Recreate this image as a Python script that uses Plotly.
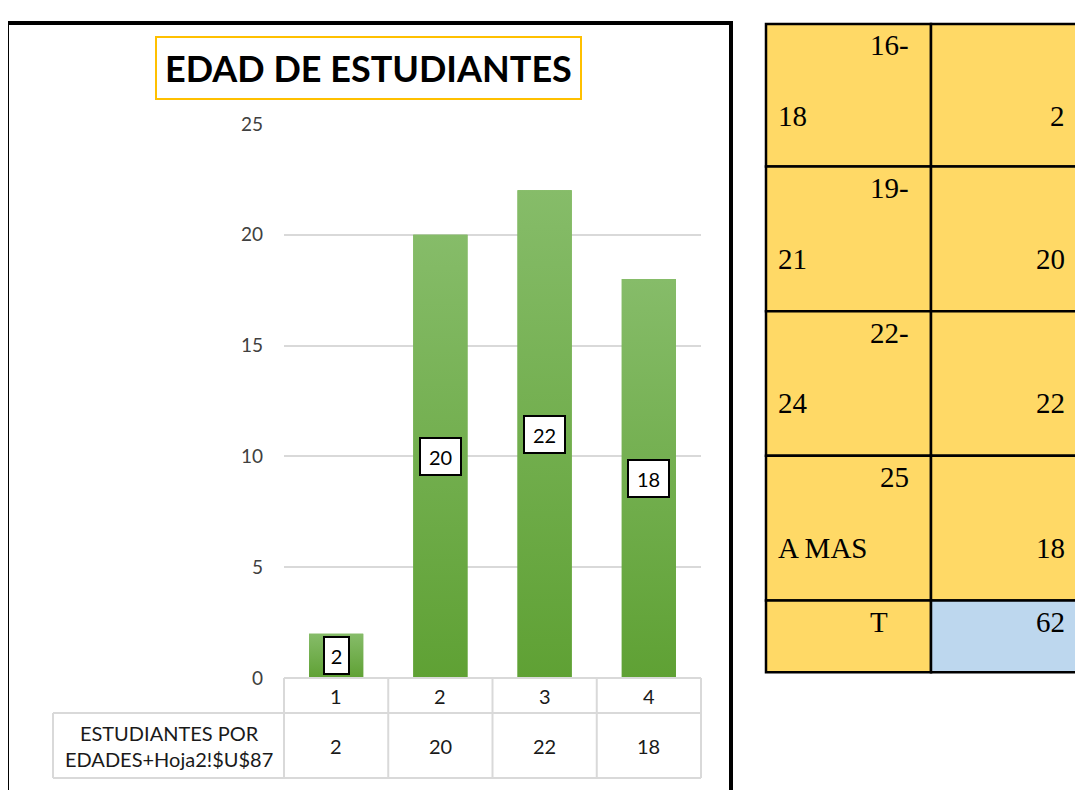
import plotly.graph_objects as go

# ---- data ----
categories = ["1", "2", "3", "4"]
values = [2, 20, 22, 18]
series_name = "ESTUDIANTES POR<br>EDADES+Hoja2!$U$87"
title_text = "EDAD DE ESTUDIANTES"
y_ticks = [0, 5, 10, 15, 20, 25]
range_top = ["16-", "19-", "22-", "25"]
range_bottom = ["18", "21", "24", "A MAS"]
range_counts = [2, 20, 22, 18]
total_label = "T"
total_value = 62

# figure sized so the page (8px body margin) fits the 1083x798 window
W, H = 1083, 782
OFF = 8
def X(px):
    return (px - OFF) / W
def Y(py):
    return 1 - (py - OFF) / H

PL, PR, PT, PB = 284, 701, 115, 686
BAR_W = 0.52

fig = go.Figure()
fig.add_trace(go.Bar(
    x=categories, y=values, width=BAR_W,
    marker=dict(color="#6DAD45", line=dict(width=0)),
    hoverinfo="skip", showlegend=False,
))
# gradient overlay on each bar (same geometry, derived from the data values)
for i, v in enumerate(values):
    hw = BAR_W / 2
    fig.add_trace(go.Scatter(
        x=[i - hw, i + hw, i + hw, i - hw, i - hw], y=[0, 0, v, v, 0],
        xaxis="x2", yaxis="y", mode="lines", line=dict(width=0), fill="toself",
        fillgradient=dict(type="vertical", colorscale=[[0, "#5FA134"], [1, "#86BC69"]]),
        hoverinfo="skip", showlegend=False,
    ))

shapes = []
annotations = []

for i, v in enumerate(values):
    s = str(v)
    annotations.append(dict(
        x=i, y=v / 2, xref="x", yref="y", text=s, showarrow=False,
        font=dict(family="Lato", size=20, color="black"),
        bgcolor="white", bordercolor="black", borderwidth=2, borderpad=0,
        width=23 if len(s) == 1 else 39, height=35,
        xanchor="center", yanchor="middle",
    ))

grid_c = "#D9D9D9"
col_w = (PR - PL) / len(categories)
row1_top, row1_bot, row2_bot = PB, 722, 789
hdr_left = 53
shapes.append(dict(type="line", xref="paper", yref="paper", x0=X(PL), x1=X(PR), y0=Y(row1_top), y1=Y(row1_top), line=dict(color=grid_c, width=2)))
shapes.append(dict(type="line", xref="paper", yref="paper", x0=X(hdr_left), x1=X(PR), y0=Y(row1_bot), y1=Y(row1_bot), line=dict(color=grid_c, width=2)))
shapes.append(dict(type="line", xref="paper", yref="paper", x0=X(hdr_left), x1=X(PR), y0=Y(row2_bot), y1=Y(row2_bot), line=dict(color=grid_c, width=2)))
shapes.append(dict(type="line", xref="paper", yref="paper", x0=X(hdr_left), x1=X(hdr_left), y0=Y(row1_bot), y1=Y(row2_bot), line=dict(color=grid_c, width=2)))
for i in range(len(categories) + 1):
    xx = PL + i * col_w
    shapes.append(dict(type="line", xref="paper", yref="paper", x0=X(xx), x1=X(xx), y0=Y(row1_top), y1=Y(row2_bot), line=dict(color=grid_c, width=2)))

tbl_font = dict(family="Lato", size=20, color="#1a1a1a")
for i, (c, v) in enumerate(zip(categories, values)):
    annotations.append(dict(x=i, xref="x", y=Y((row1_top + row1_bot) / 2), yref="paper", text=c,
                            showarrow=False, font=tbl_font, xanchor="center", yanchor="middle"))
    annotations.append(dict(x=i, xref="x", y=Y((row1_bot + row2_bot) / 2), yref="paper", text=str(v),
                            showarrow=False, font=tbl_font, xanchor="center", yanchor="middle"))
annotations.append(dict(x=X((hdr_left + PL) / 2), xref="paper", y=Y((row1_bot + row2_bot) / 2), yref="paper",
                        text=series_name, showarrow=False, font=tbl_font, xanchor="center", yanchor="middle", align="center"))

annotations.append(dict(x=X(368), y=Y(57), xref="paper", yref="paper", text="<b>" + title_text + "</b>",
                        showarrow=False, font=dict(family="Lato", size=36, color="black"),
                        bordercolor="#FFC000", borderwidth=2, borderpad=8, bgcolor="white",
                        xanchor="center", yanchor="middle"))

shapes.append(dict(type="rect", xref="paper", yref="paper", x0=X(7), x1=X(731), y0=Y(11), y1=Y(830),
                   line=dict(color="black", width=4), layer="above"))

tx0, tx1, tx2 = 766, 931, 1110
row_edges = [12, 159, 308, 457, 606, 680]
yellow, blue = "#FFD966", "#BDD7EE"
serif = dict(family="Liberation Serif", size=29, color="black")
for i in range(len(row_edges) - 1):
    ya, yb = row_edges[i], row_edges[i + 1]
    shapes.append(dict(type="rect", xref="paper", yref="paper", x0=X(tx0), x1=X(tx1), y0=Y(ya), y1=Y(yb),
                       fillcolor=yellow, line=dict(color="black", width=2.5)))
    last = i == len(row_edges) - 2
    shapes.append(dict(type="rect", xref="paper", yref="paper", x0=X(tx1), x1=X(tx2), y0=Y(ya), y1=Y(yb),
                       fillcolor=blue if last else yellow, line=dict(color="black", width=2.5)))
for i in range(len(range_top)):
    ya = row_edges[i]
    annotations.append(dict(x=X(911), y=Y(ya + 22), xref="paper", yref="paper", text=range_top[i],
                            showarrow=False, font=serif, xanchor="right", yanchor="middle"))
    annotations.append(dict(x=X(776), y=Y(ya + 95), xref="paper", yref="paper", text=range_bottom[i],
                            showarrow=False, font=serif, xanchor="left", yanchor="middle"))
    annotations.append(dict(x=X(1067), y=Y(ya + 95), xref="paper", yref="paper", text=str(range_counts[i]),
                            showarrow=False, font=serif, xanchor="right", yanchor="middle"))
annotations.append(dict(x=X(890), y=Y(row_edges[4] + 22), xref="paper", yref="paper", text=total_label,
                        showarrow=False, font=serif, xanchor="right", yanchor="middle"))
annotations.append(dict(x=X(1067), y=Y(row_edges[4] + 22), xref="paper", yref="paper", text=str(total_value),
                        showarrow=False, font=serif, xanchor="right", yanchor="middle"))

fig.update_layout(
    width=W, height=H, margin=dict(l=0, r=0, t=0, b=0),
    paper_bgcolor="white", plot_bgcolor="white",
    showlegend=False,
    xaxis=dict(type="category", domain=[X(PL), X(PR)], range=[-0.5, 3.5], showticklabels=False, showgrid=False,
               zeroline=False, showline=False, fixedrange=True),
    xaxis2=dict(overlaying="x", domain=[X(PL), X(PR)], range=[-0.5, 3.5], visible=False, fixedrange=True),
    yaxis=dict(domain=[Y(PB), Y(PT)], range=[0, 25], tickvals=y_ticks, showgrid=True, gridcolor="#D9D9D9",
               gridwidth=1.5, zeroline=False, showline=False, ticklabelstandoff=20,
               tickfont=dict(family="Lato", size=19, color="#404040"), fixedrange=True),
    shapes=shapes, annotations=annotations,
)

fig.write_html("out.html")
